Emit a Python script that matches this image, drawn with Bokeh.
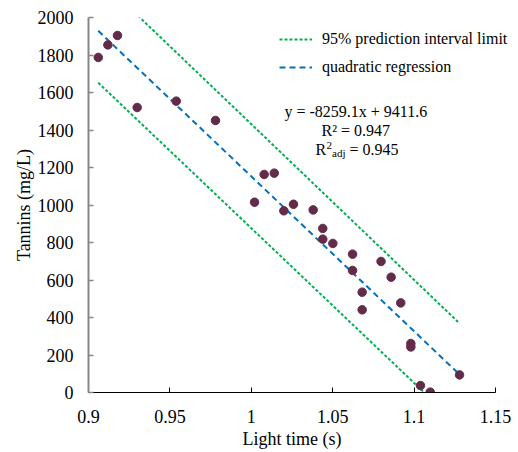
from bokeh.plotting import figure
from bokeh.models import (Label, Legend, LegendItem, FixedTicker,
                          NumeralTickFormatter, Range1d, Title)
from bokeh.embed import file_html
from bokeh.resources import INLINE

# ---- data ----
light_time = [0.9060, 0.9119, 0.9178, 0.9299, 0.9539, 0.9780, 1.0020, 1.0079,
              1.0141, 1.0200, 1.0259, 1.0380, 1.0439, 1.0439, 1.0501, 1.0622,
              1.0622, 1.0681, 1.0681, 1.0797, 1.0859, 1.0918, 1.0980, 1.0980,
              1.1039, 1.1099, 1.1279]
tannins = [1787, 1854, 1904, 1520, 1554, 1451, 1015, 1163,
           1170, 969, 1004, 974, 875, 818, 795, 738,
           651, 535, 441, 699, 615, 478, 261, 243,
           37, 2, 94]

slope = -8259.1
intercept = 9411.6

pi_x = [0.906, 1.128]
pi_upper = [2212, 368]
pi_lower = [1652, -180]

x_ticks = [0.9, 0.95, 1.0, 1.05, 1.1, 1.15]
y_ticks = [0, 200, 400, 600, 800, 1000, 1200, 1400, 1600, 1800, 2000]

FONT = "Liberation Serif"
GREEN = "#00b050"
BLUE = "#0070c0"
DOT = "#632b4a"

# frame runs to the right edge so the legend text is not clipped;
# the x axis itself is bounded to 0.9 .. 1.15
p = figure(frame_width=430, frame_height=375,
           min_border_left=88, min_border_right=0,
           min_border_top=17, min_border_bottom=60,
           x_range=Range1d(0.9, 0.9 + 430 / 1628), y_range=Range1d(0, 2000),
           output_backend="svg", toolbar_location=None)
p.outline_line_color = None
p.xgrid.visible = False
p.ygrid.visible = False
p.background_fill_color = "white"
p.border_fill_color = "white"

# prediction interval lines
up = p.line(pi_x, pi_upper, line_color=GREEN, line_width=2, line_dash="3 2")
p.line(pi_x, pi_lower, line_color=GREEN, line_width=2, line_dash="3 2")

# regression line from the printed coefficients
reg_x = [min(light_time), max(light_time)]
reg_y = [slope * v + intercept for v in reg_x]
reg = p.line(reg_x, reg_y, line_color=BLUE, line_width=2, line_dash="6 4")

p.scatter(light_time, tannins, size=8.5, fill_color=DOT, line_color=DOT)

# axes
xa = p.xaxis[0]
xa.bounds = (0.9, 1.15)
xa.ticker = FixedTicker(ticks=x_ticks)
xa.formatter = NumeralTickFormatter(format="0.[00]")
xa.axis_line_color = "black"
xa.major_tick_line_color = "black"
xa.axis_line_width = 1

ya = p.yaxis[0]
ya.ticker = FixedTicker(ticks=y_ticks)
ya.axis_label = "Tannins (mg/L)"
ya.axis_line_color = "#878787"
ya.axis_line_width = 2
ya.major_tick_line_color = "#878787"
ya.major_tick_line_width = 1.5

for ax in (xa, ya):
    ax.major_tick_in = 5
    ax.major_tick_out = 0
    ax.minor_tick_line_color = None
    ax.major_label_text_font = FONT
    ax.major_label_text_font_size = "18px"
    ax.major_label_text_color = "black"
    ax.axis_label_text_font = FONT
    ax.axis_label_text_font_size = "18px"
    ax.axis_label_text_font_style = "normal"
    ax.axis_label_text_color = "black"
xa.major_label_standoff = 17
ya.major_label_standoff = 15
ya.axis_label_standoff = 1

# x axis title, centred under the bounded axis
xt = Title(text="Light time (s)", align="left", offset=154, standoff=3,
           text_font=FONT, text_font_size="18px", text_font_style="normal",
           text_color="black")
p.add_layout(xt, "below")

# legend
legend = Legend(items=[LegendItem(label="95% prediction interval limit", renderers=[up]),
                       LegendItem(label="quadratic regression", renderers=[reg])],
                location=(191, 315), padding=0, spacing=8, margin=0,
                glyph_width=33, label_standoff=10,
                label_text_font=FONT, label_text_font_size="16px",
                label_text_color="black",
                border_line_color=None, background_fill_alpha=0)
p.add_layout(legend)

# equation annotations
def lab(x, y, text, size="16px", align="left"):
    p.add_layout(Label(x=x, y=y, text=text, text_font=FONT, text_font_size=size,
                       text_align=align, text_baseline="alphabetic",
                       text_color="black"))

lab(1.06419, 1499, "y = -8259.1x + 9411.6", align="center")
lab(1.06419, 1400, "R\u00b2 = 0.947", align="center")
lab(1.03943, 1296, "R")
lab(1.04620, 1317, "2", size="11px")
lab(1.04960, 1275, "adj", size="11px")
lab(1.06032, 1296, "= 0.945")

open("out.html", "w").write(file_html(p, INLINE))
